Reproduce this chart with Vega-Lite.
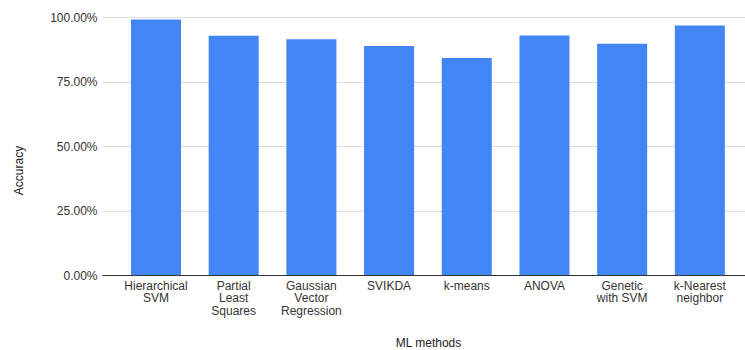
{
  "$schema": "https://vega.github.io/schema/vega-lite/v6.json",
  "autosize": {"type": "none"},
  "padding": {"left": 102, "top": 17, "right": 0, "bottom": 75},
  "width": 643,
  "height": 258,
  "background": "white",
  "config": {
    "view": {"stroke": null},
    "font": "Liberation Sans"
  },
  "data": {
    "values": [
      {"method": "Hierarchical SVM", "accuracy": 0.990},
      {"method": "Partial Least Squares", "accuracy": 0.927},
      {"method": "Gaussian Vector Regression", "accuracy": 0.914},
      {"method": "SVIKDA", "accuracy": 0.888},
      {"method": "k-means", "accuracy": 0.841},
      {"method": "ANOVA", "accuracy": 0.928},
      {"method": "Genetic with SVM", "accuracy": 0.896},
      {"method": "k-Nearest neighbor", "accuracy": 0.967}
    ]
  },
  "mark": {"type": "bar", "color": "#4285F4"},
  "encoding": {
    "x": {
      "field": "method",
      "type": "nominal",
      "sort": null,
      "scale": {"paddingInner": 0.356, "paddingOuter": 0.316, "align": 0.59},
      "axis": {
        "title": "ML methods",
        "titleFont": "Liberation Sans",
        "titleFontSize": 12,
        "titleFontWeight": "normal",
        "titleColor": "#222222",
        "titleX": 326,
        "titleY": 67,
        "titleAlign": "center",
        "titleBaseline": "middle",
        "labelAngle": 0,
        "labelFontSize": 12,
        "labelColor": "#333333",
        "labelPadding": 5,
        "labelLineHeight": 12.5,
        "labelBaseline": "top",
        "labelExpr": "datum.value == 'Genetic with SVM' ? ['Genetic', 'with SVM'] : datum.value == 'Hierarchical SVM' ? ['Hierarchical', 'SVM'] : split(datum.value, ' ')",
        "ticks": false,
        "domainColor": "#333333",
        "domainWidth": 1
      }
    },
    "y": {
      "field": "accuracy",
      "type": "quantitative",
      "scale": {"domain": [0, 1], "nice": false},
      "axis": {
        "title": "Accuracy",
        "titleFont": "Liberation Sans",
        "titleFontSize": 12,
        "titleFontWeight": "normal",
        "titleColor": "#222222",
        "titleX": -84,
        "titleY": 153,
        "titleAlign": "center",
        "titleBaseline": "middle",
        "values": [0, 0.25, 0.5, 0.75, 1],
        "format": ".2%",
        "labelFontSize": 12,
        "labelColor": "#333333",
        "labelPadding": 5,
        "ticks": false,
        "domain": false,
        "gridColor": "#dddddd",
        "gridWidth": 1
      }
    }
  }
}
